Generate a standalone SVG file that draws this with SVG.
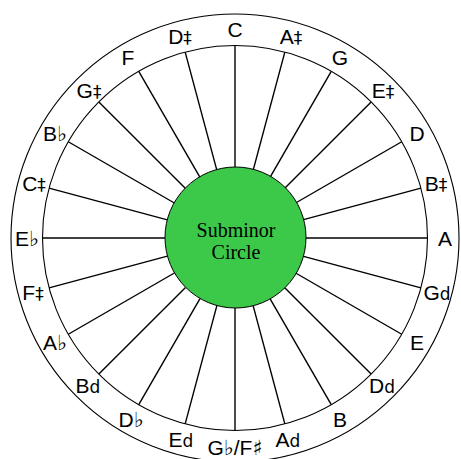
<svg xmlns="http://www.w3.org/2000/svg" width="461" height="459" viewBox="0 0 461 459">
  <style>
    .ring { fill: none; stroke: #000; stroke-width: 1.1; }
    .spoke { stroke: #000; stroke-width: 1.4; }
    .note { font-family: "Liberation Sans", Arial, sans-serif; font-size: 21px; fill: #000; text-anchor: middle; }
    .acc { font-family: "DejaVu Sans", sans-serif; font-size: 17px; }
    .sym { font-family: "DejaVu Sans", sans-serif; font-size: 21px; }
    .hub { fill: #3cc849; stroke: #000; stroke-width: 1; }
    .title { font-family: "Liberation Serif", "Times New Roman", serif; font-size: 20px; fill: #000; text-anchor: middle; }
  </style>

  <rect width="461" height="459" fill="#fff"/>

  <!-- outer band -->
  <g id="band">
    <circle class="ring" cx="235" cy="238" r="224"/>
    <circle class="ring" cx="235" cy="238" r="192.5"/>
  </g>

  <!-- spokes every 15 degrees -->
  <g id="connectors" transform="translate(235,238)">
    <line class="spoke" x1="0" y1="-70" x2="0" y2="-192.5" transform="rotate(0)"/>
    <line class="spoke" x1="0" y1="-70" x2="0" y2="-192.5" transform="rotate(15)"/>
    <line class="spoke" x1="0" y1="-70" x2="0" y2="-192.5" transform="rotate(30)"/>
    <line class="spoke" x1="0" y1="-70" x2="0" y2="-192.5" transform="rotate(45)"/>
    <line class="spoke" x1="0" y1="-70" x2="0" y2="-192.5" transform="rotate(60)"/>
    <line class="spoke" x1="0" y1="-70" x2="0" y2="-192.5" transform="rotate(75)"/>
    <line class="spoke" x1="0" y1="-70" x2="0" y2="-192.5" transform="rotate(90)"/>
    <line class="spoke" x1="0" y1="-70" x2="0" y2="-192.5" transform="rotate(105)"/>
    <line class="spoke" x1="0" y1="-70" x2="0" y2="-192.5" transform="rotate(120)"/>
    <line class="spoke" x1="0" y1="-70" x2="0" y2="-192.5" transform="rotate(135)"/>
    <line class="spoke" x1="0" y1="-70" x2="0" y2="-192.5" transform="rotate(150)"/>
    <line class="spoke" x1="0" y1="-70" x2="0" y2="-192.5" transform="rotate(165)"/>
    <line class="spoke" x1="0" y1="-70" x2="0" y2="-192.5" transform="rotate(180)"/>
    <line class="spoke" x1="0" y1="-70" x2="0" y2="-192.5" transform="rotate(195)"/>
    <line class="spoke" x1="0" y1="-70" x2="0" y2="-192.5" transform="rotate(210)"/>
    <line class="spoke" x1="0" y1="-70" x2="0" y2="-192.5" transform="rotate(225)"/>
    <line class="spoke" x1="0" y1="-70" x2="0" y2="-192.5" transform="rotate(240)"/>
    <line class="spoke" x1="0" y1="-70" x2="0" y2="-192.5" transform="rotate(255)"/>
    <line class="spoke" x1="0" y1="-70" x2="0" y2="-192.5" transform="rotate(270)"/>
    <line class="spoke" x1="0" y1="-70" x2="0" y2="-192.5" transform="rotate(285)"/>
    <line class="spoke" x1="0" y1="-70" x2="0" y2="-192.5" transform="rotate(300)"/>
    <line class="spoke" x1="0" y1="-70" x2="0" y2="-192.5" transform="rotate(315)"/>
    <line class="spoke" x1="0" y1="-70" x2="0" y2="-192.5" transform="rotate(330)"/>
    <line class="spoke" x1="0" y1="-70" x2="0" y2="-192.5" transform="rotate(345)"/>
  </g>

  <!-- centre hub -->
  <g id="hub">
    <circle class="hub" cx="235.5" cy="237.5" r="70.5"/>
    <text class="title" x="236" y="237">Subminor</text>
    <text class="title" x="236" y="259">Circle</text>
  </g>

  <!-- note labels, clockwise from the top -->
  <g id="n-C"><text class="note" x="235" y="36.5">C</text></g>
  <g id="n-Ahs"><text class="note" x="291" y="43.6">A<tspan class="acc">‡</tspan></text></g>
  <g id="n-G"><text class="note" x="340" y="64.5">G</text></g>
  <g id="n-Ehs"><text class="note" x="383" y="97.7">E<tspan class="acc">‡</tspan></text></g>
  <g id="n-D"><text class="note" x="417" y="141">D</text></g>
  <g id="n-Bhs"><text class="note" x="436" y="191.4">B<tspan class="acc">‡</tspan></text></g>
  <g id="n-A"><text class="note" x="445" y="245.5">A</text></g>
  <g id="n-Ghf"><text class="note" x="437" y="299.6">G<tspan class="acc">d</tspan></text></g>
  <g id="n-E"><text class="note" x="417" y="350">E</text></g>
  <g id="n-Dhf"><text class="note" x="382" y="393.3">D<tspan class="acc">d</tspan></text></g>
  <g id="n-B"><text class="note" x="340" y="426.5">B</text></g>
  <g id="n-Ahf"><text class="note" x="288" y="447.4">A<tspan class="acc">d</tspan></text></g>
  <g id="n-Gb"><text class="note" x="235" y="454.5">G<tspan class="sym">♭</tspan>/F<tspan class="sym">♯</tspan></text></g>
  <g id="n-Ehf"><text class="note" x="181" y="447.4">E<tspan class="acc">d</tspan></text></g>
  <g id="n-Db"><text class="note" x="131" y="426.5">D<tspan class="sym">♭</tspan></text></g>
  <g id="n-Bhf"><text class="note" x="88" y="393.3">B<tspan class="acc">d</tspan></text></g>
  <g id="n-Ab"><text class="note" x="55" y="350">A<tspan class="sym">♭</tspan></text></g>
  <g id="n-Fhs"><text class="note" x="33" y="299.6">F<tspan class="acc">‡</tspan></text></g>
  <g id="n-Eb"><text class="note" x="27" y="245.5">E<tspan class="sym">♭</tspan></text></g>
  <g id="n-Chs"><text class="note" x="34" y="191.4">C<tspan class="acc">‡</tspan></text></g>
  <g id="n-Bb"><text class="note" x="55" y="141">B<tspan class="sym">♭</tspan></text></g>
  <g id="n-Ghs"><text class="note" x="89" y="97.7">G<tspan class="acc">‡</tspan></text></g>
  <g id="n-F"><text class="note" x="128" y="64.5">F</text></g>
  <g id="n-Dhs"><text class="note" x="180" y="43.6">D<tspan class="acc">‡</tspan></text></g>
</svg>
